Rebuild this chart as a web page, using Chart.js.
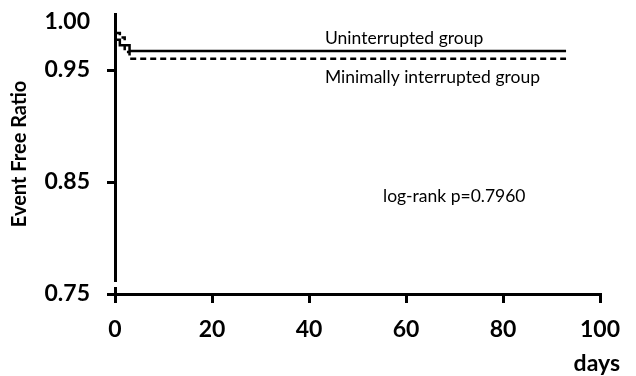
<!DOCTYPE html>
<html>
<head>
<meta charset="utf-8">
<script src="https://cdn.jsdelivr.net/npm/chart.js@4/dist/chart.umd.min.js"></script>
<style>
html,body{margin:0;padding:0;background:#fff;}
#wrap{width:636px;height:376px;}
</style>
</head>
<body>
<div id="wrap"><canvas id="c" width="636" height="376"></canvas></div>
<script>
// Kaplan-Meier step data (days, event-free ratio)
const uninterruptedDays  = [0, 1, 3, 7, 93];
const uninterruptedRatio = [1.000, 0.977, 0.972, 0.967, 0.967];
const minimallyDays      = [0, 1, 2, 3, 4, 93];
const minimallyRatio     = [1.000, 0.983, 0.979, 0.966, 0.960, 0.960];

const xTicks = [0, 20, 40, 60, 80, 100];
const yTicks = [0.75, 0.85, 0.95];
const yTopLabel = '1.00';

const seriesNames = ['Uninterrupted group', 'Minimally interrupted group'];
const statText = 'log-rank p=0.7960';
const xTitle = 'days';
const yTitle = 'Event Free Ratio';

const toXY = (xs, ys) => xs.map((x, i) => ({x: x, y: ys[i]}));

const textPlugin = {
  id: 'texts',
  afterDraw(chart) {
    const {ctx, scales: {x, y}} = chart;
    ctx.save();
    // small gap in the y axis line near the origin
    ctx.fillStyle = '#fff';
    ctx.fillRect(x.left - 4, y.bottom - 12, 8, 5);
    ctx.fillStyle = '#000';
    ctx.textBaseline = 'middle';
    ctx.font = '17.5px Lato';
    ctx.textAlign = 'left';
    ctx.fillText(seriesNames[0], 325, 38);
    ctx.fillText(seriesNames[1], 325, 77);
    ctx.fillText(statText, 383, 196);
    ctx.font = 'bold 23px Lato';
    ctx.textAlign = 'right';
    ctx.fillText(xTitle, 620, 364);
    ctx.fillText(yTopLabel, 90, 22);
    ctx.restore();
  }
};

new Chart(document.getElementById('c'), {
  type: 'line',
  data: {
    datasets: [
      {
        label: seriesNames[0],
        data: toXY(uninterruptedDays, uninterruptedRatio),
        borderColor: '#000',
        borderWidth: 2.5,
        stepped: 'after',
        pointRadius: 0,
        fill: false
      },
      {
        label: seriesNames[1],
        data: toXY(minimallyDays, minimallyRatio),
        borderColor: '#000',
        borderWidth: 2.5,
        borderDash: [6, 4],
        stepped: 'after',
        pointRadius: 0,
        fill: false
      }
    ]
  },
  options: {
    responsive: false,
    animation: false,
    events: [],
    layout: {padding: {top: 14, right: 36, left: 0, bottom: 0}},
    plugins: {legend: {display: false}, tooltip: {enabled: false}},
    scales: {
      x: {
        type: 'linear',
        min: 0, max: 100,
        afterBuildTicks: s => { s.ticks = xTicks.map(v => ({value: v})); },
        afterFit: s => { s.height = 82; s.paddingLeft = 0; s.paddingRight = 0; },
        border: {display: true, color: '#000', width: 3},
        grid: {display: true, drawOnChartArea: false, drawTicks: true, tickLength: 9, color: '#000', lineWidth: 3},
        ticks: {color: '#000', font: {family: 'Lato', size: 23, weight: 'bold'}, padding: 13, maxRotation: 0}
      },
      y: {
        type: 'linear',
        min: 0.75, max: 1.0,
        afterBuildTicks: s => { s.ticks = yTicks.map(v => ({value: v})); },
        afterFit: s => { s.width = 115; s.paddingTop = 0; s.paddingBottom = 0; },
        border: {display: true, color: '#000', width: 3},
        grid: {display: true, drawOnChartArea: false, drawTicks: true, tickLength: 8, color: '#000', lineWidth: 3},
        ticks: {color: '#000', font: {family: 'Lato', size: 23, weight: 'bold'}, padding: 17,
                callback: v => v.toFixed(2)},
        title: {display: true, text: yTitle, color: '#000', font: {family: 'Lato', size: 20, weight: 'bold'}, padding: {top: 8, bottom: 0}}
      }
    }
  },
  plugins: [textPlugin]
});
</script>
</body>
</html>
